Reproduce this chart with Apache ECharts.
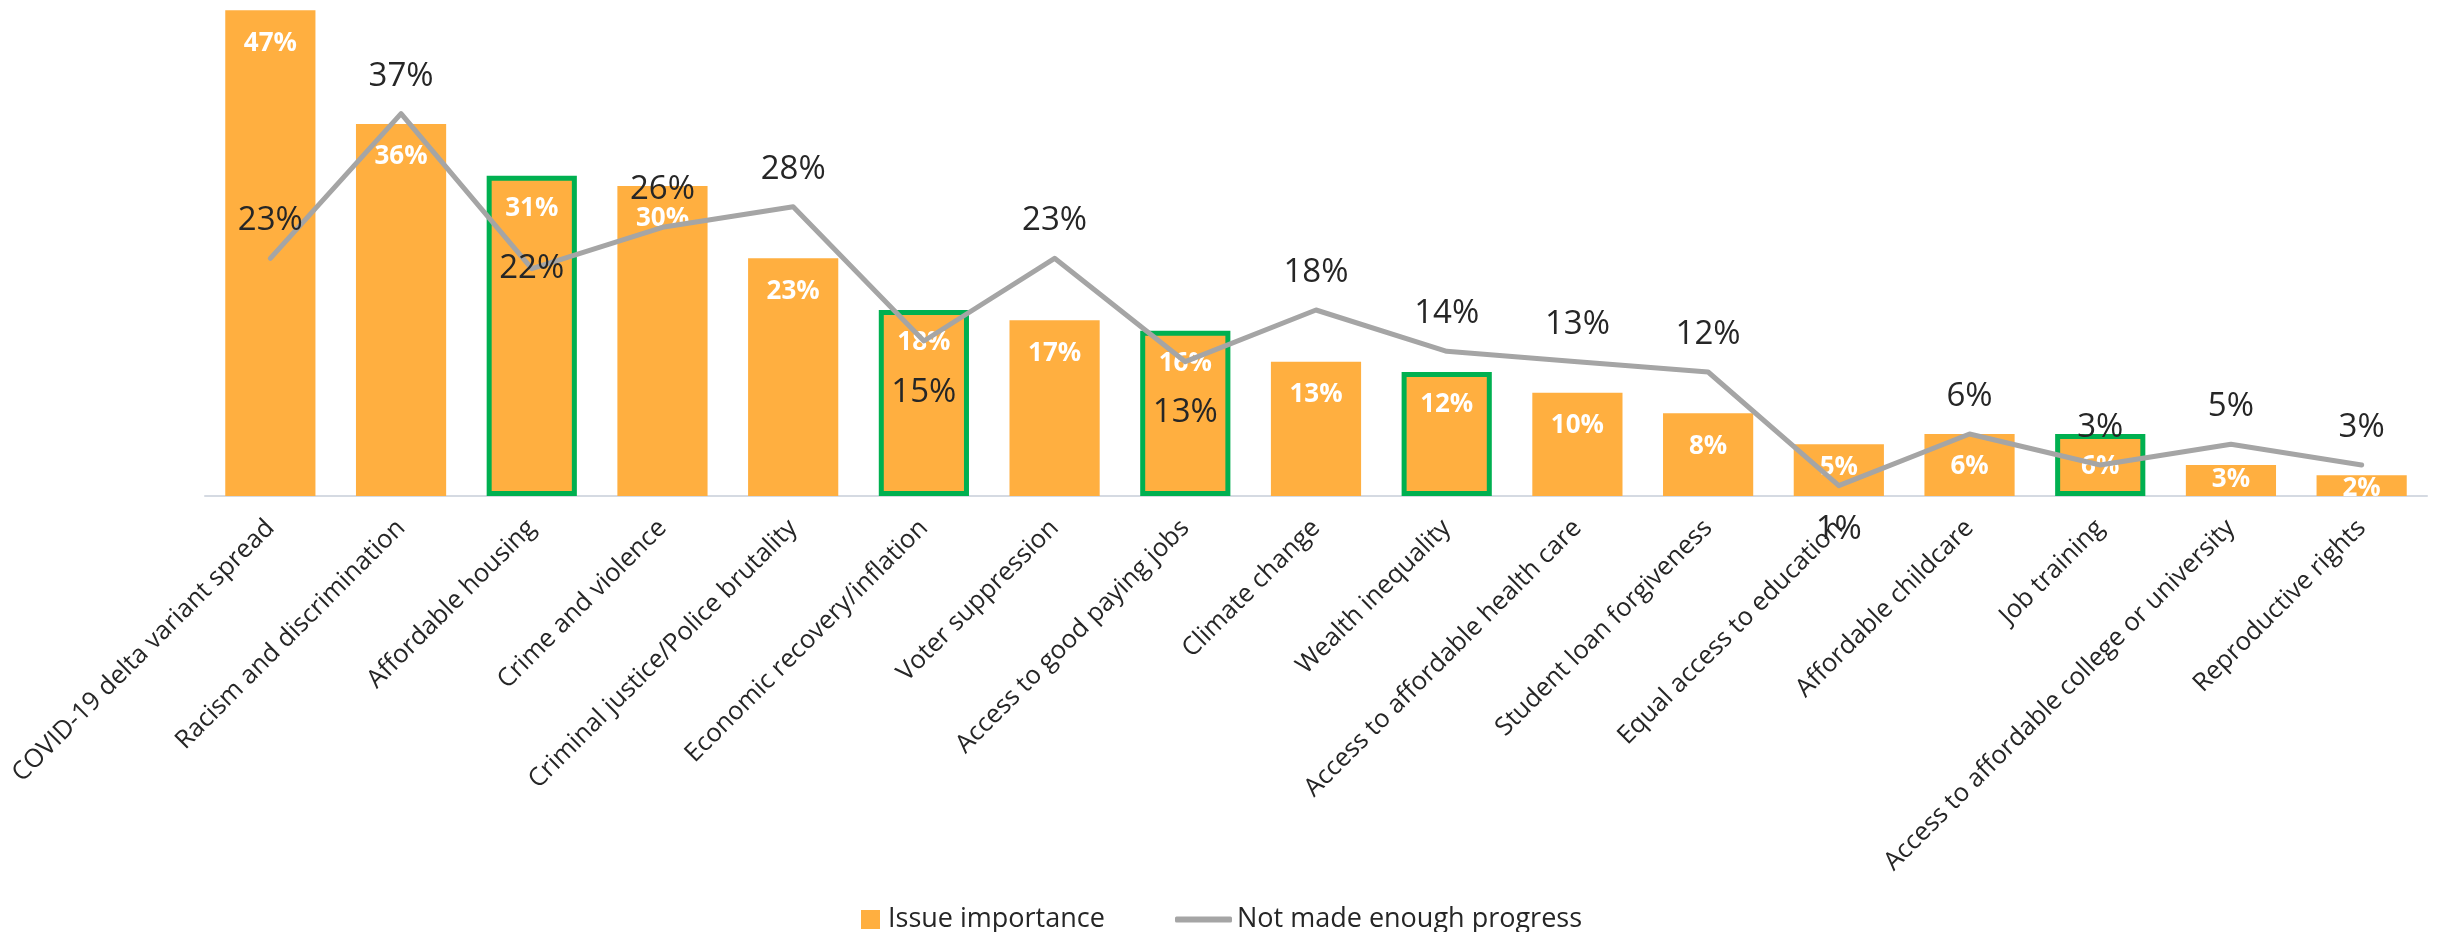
<!DOCTYPE html>
<html>
<head>
<meta charset="utf-8">
<title>Issue importance vs progress</title>
<script src="https://cdn.jsdelivr.net/npm/echarts@6/dist/echarts.min.js"></script>
<style>
  html, body { margin: 0; padding: 0; background: #fff; }
  #chart { width: 2438px; height: 932px; }
</style>
</head>
<body>
<div id="chart"></div>
<script>
// data
const issues = [
  'COVID-19 delta variant spread',
  'Racism and discrimination',
  'Affordable housing',
  'Crime and violence',
  'Criminal justice/Police brutality',
  'Economic recovery/inflation',
  'Voter suppression',
  'Access to good paying jobs',
  'Climate change',
  'Wealth inequality',
  'Access to affordable health care',
  'Student loan forgiveness',
  'Equal access to education',
  'Affordable childcare',
  'Job training',
  'Access to affordable college or university',
  'Reproductive rights'
];
const importance = [47, 36, 31, 30, 23, 18, 17, 16, 13, 12, 10, 8, 5, 6, 6, 3, 2];
const progress = [23, 37, 22, 26, 28, 15, 23, 13, 18, 14, 13, 12, 1, 6, 3, 5, 3];
const highlightedIssues = [
  'Affordable housing',
  'Economic recovery/inflation',
  'Access to good paying jobs',
  'Wealth inequality',
  'Job training'
];

const ORANGE = '#FFAF40';
const GREEN = '#00B050';
const GREY = '#A5A5A5';
const TEXT = '#262626';
const FONT = '"Open Sans", "Noto Sans", sans-serif';

// a few labels sit lower than the rest in the original
const progressLabelOverride = {
  'Affordable housing': { position: 'inside', offset: [0, 4] },
  'Economic recovery/inflation': { position: 'bottom', distance: 35 },
  'Access to good paying jobs': { position: 'bottom', distance: 34 },
  'Equal access to education': { position: 'bottom', distance: 27 }
};
// short bars push their label up towards the top edge
const barLabelGap = { 'Equal access to education': 10, 'Access to affordable college or university': 2, 'Reproductive rights': 0 };

const barData = importance.map((v, i) => {
  const name = issues[i];
  const item = { value: v };
  if (highlightedIssues.includes(name)) {
    item.itemStyle = { borderColor: GREEN, borderWidth: 5 };
  }
  if (name in barLabelGap) {
    item.label = { distance: barLabelGap[name] };
  }
  return item;
});

const lineData = progress.map((v, i) => {
  const item = { value: v };
  const o = progressLabelOverride[issues[i]];
  if (o) item.label = o;
  return item;
});

const chart = echarts.init(document.getElementById('chart'));
chart.setOption({
  animation: false,
  textStyle: { fontFamily: FONT },
  grid: { left: 205, right: 11, top: 0, bottom: 436 },
  legend: [
    {
      data: ['Issue importance'],
      left: 856,
      top: 901,
      icon: 'rect',
      itemWidth: 19,
      itemHeight: 19,
      textStyle: { fontSize: 27, color: TEXT, fontFamily: FONT, padding: [0, 0, 0, 3] }
    },
    {
      data: ['Not made enough progress'],
      left: 1170,
      top: 901,
      icon: 'roundRect',
      itemWidth: 57,
      itemHeight: 6,
      itemStyle: { color: GREY },
      textStyle: { fontSize: 27, color: TEXT, fontFamily: FONT }
    }
  ],
  xAxis: {
    type: 'category',
    data: issues,
    axisLine: { lineStyle: { color: '#D5DAE2', width: 2 } },
    axisTick: { length: 9, lineStyle: { color: '#D5DAE2', width: 2 } },
    axisLabel: {
      rotate: 45,
      interval: 0,
      margin: 28,
      fontSize: 25.5,
      color: TEXT,
      fontFamily: FONT
    }
  },
  yAxis: {
    type: 'value',
    min: 0,
    max: 48,
    show: false,
    splitLine: { show: false }
  },
  series: [
    {
      name: 'Issue importance',
      type: 'bar',
      data: barData,
      barWidth: '69%',
      itemStyle: { color: ORANGE },
      label: {
        show: true,
        position: 'insideTop',
        distance: 20,
        formatter: '{c}%',
        color: '#fff',
        fontWeight: 'bold',
        fontSize: 26,
        fontFamily: FONT
      },
      z: 2
    },
    {
      name: 'Not made enough progress',
      type: 'line',
      data: lineData,
      symbol: 'circle',
      symbolSize: 0,
      showSymbol: true,
      lineStyle: { color: GREY, width: 5, cap: 'round', join: 'round' },
      itemStyle: { color: GREY },
      label: {
        show: true,
        position: 'top',
        distance: 21,
        formatter: '{c}%',
        color: TEXT,
        fontSize: 33,
        fontFamily: FONT
      },
      labelLayout: { hideOverlap: false },
      z: 3
    }
  ]
});
</script>
</body>
</html>
